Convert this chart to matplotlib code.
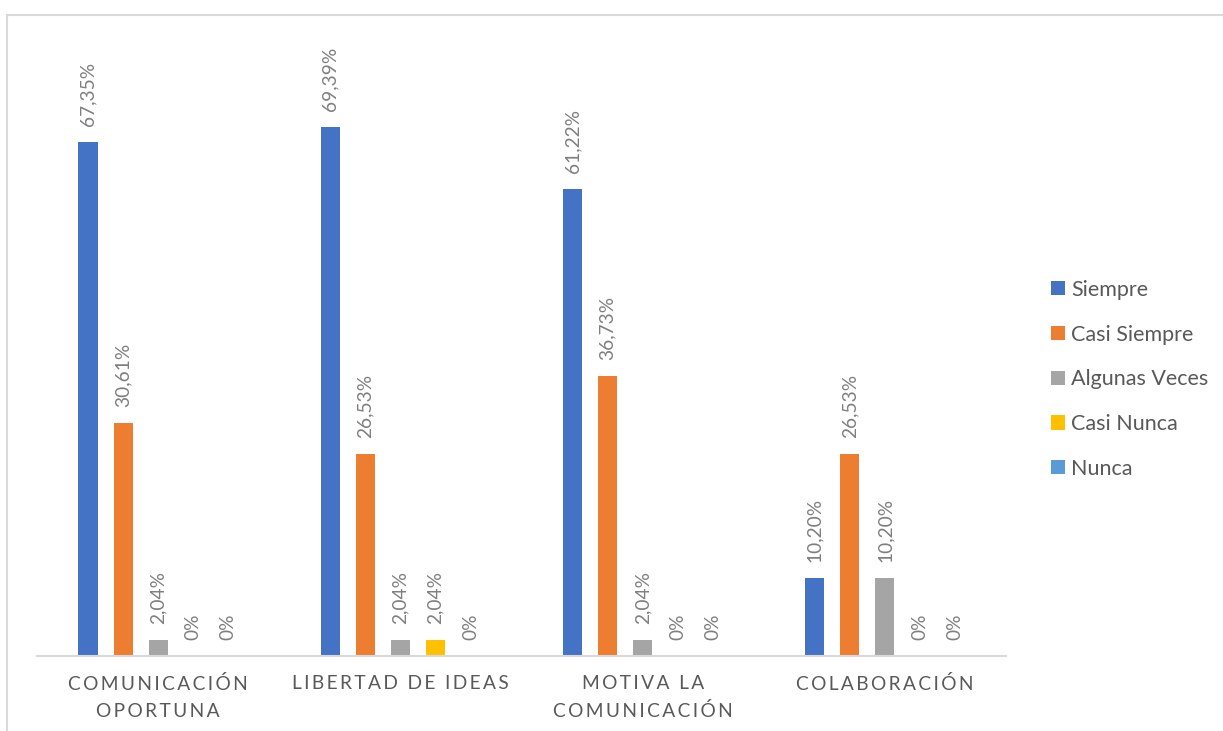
import matplotlib
matplotlib.use("Agg")
import matplotlib.pyplot as plt
import numpy as np
from matplotlib.patches import Rectangle

plt.rcParams['font.family'] = ['Lato', 'DejaVu Sans']

# data
categories = ["COMUNICACIÓN\nOPORTUNA", "LIBERTAD DE IDEAS", "MOTIVA LA\nCOMUNICACIÓN", "COLABORACIÓN"]
series = ["Siempre", "Casi Siempre", "Algunas Veces", "Casi Nunca", "Nunca"]
siempre = [67.35, 69.39, 61.22, 10.20]
casi_siempre = [30.61, 26.53, 36.73, 26.53]
algunas_veces = [2.04, 2.04, 2.04, 10.20]
casi_nunca = [0, 2.04, 0, 0]
nunca = [0, 0, 0, 0]
values = [siempre, casi_siempre, algunas_veces, casi_nunca, nunca]
colors = ["#4472c4", "#ed7d31", "#a5a5a5", "#ffc000", "#5b9bd5"]


def fmt(v):
    if v == 0:
        return "0%"
    return f"{v:.2f}".replace(".", ",") + "%"


def spaced(s):
    # wide letter spacing like the original axis labels
    return "\n".join("\u2009".join(line) for line in s.split("\n"))


fig = plt.figure(figsize=(12.23, 7.31), dpi=100)
fig.patches.append(Rectangle((7/1223, -0.1), 1.2, (731-15)/731 + 0.1,
                             transform=fig.transFigure, fill=False,
                             edgecolor="#d9d9d9", linewidth=1.5))
ax = fig.add_axes([37/1223, 75/731, 969/1223, 610/731])

x = np.arange(len(categories))
step = 0.1446
w = 0.079
for i, (name, vals, c) in enumerate(zip(series, values, colors)):
    pos = x + (i - 2) * step
    ax.bar(pos, vals, width=w, color=c, label=name)
    for p, v in zip(pos, vals):
        ax.text(p, v + 2.1, fmt(v), rotation=90, ha="center", va="bottom",
                fontsize=13.8, color="#7f7f7f")

ax.set_xlim(-0.5, 3.5)
ax.set_ylim(0, 80)
ax.set_yticks([])
ax.set_xticks(x)
ax.set_xticklabels([spaced(c) for c in categories], fontsize=13.8,
                   color="#595959", linespacing=1.65)
ax.tick_params(axis="x", length=0, pad=14)
for s in ["top", "right", "left"]:
    ax.spines[s].set_visible(False)
ax.spines["bottom"].set_color("#d9d9d9")
ax.spines["bottom"].set_linewidth(1.5)

fig.legend(loc="upper left", bbox_to_anchor=(1040/1223, 1 - 269/731),
           frameon=False, fontsize=15.5, labelcolor="#595959",
           handlelength=0.65, handleheight=0.65, handletextpad=0.3,
           labelspacing=1.15, borderpad=0)

fig.savefig("out.png", dpi=100)
